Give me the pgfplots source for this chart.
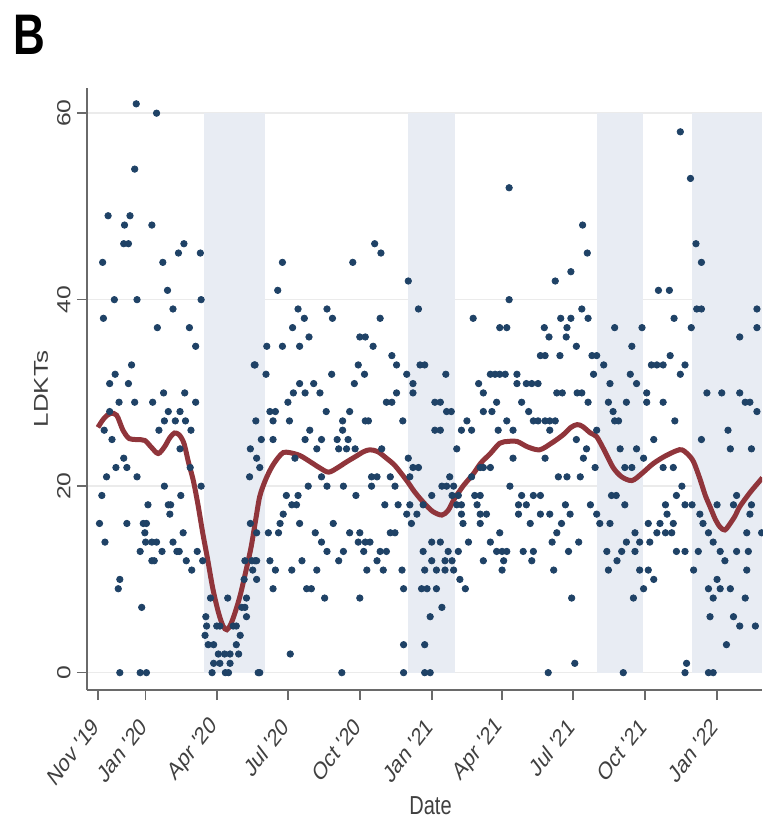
\documentclass[border=0pt]{standalone}
\usepackage{fontspec}
\setmainfont{Liberation Sans}
\usepackage{pgfplots}
\usepackage{pgfplotstable}
\pgfplotsset{compat=1.18}

\definecolor{navy}{HTML}{1F4266}
\definecolor{maroon}{HTML}{90353B}
\definecolor{shade}{HTML}{E8ECF3}
\definecolor{txt}{HTML}{404040}
\definecolor{axl}{HTML}{6A6A6A}

% x = days since 1 Nov 2019, y = daily LDKTs
\pgfplotstableread[row sep=\\]{
day val\\
49 61\\ 75 60\\ 47 54\\ 13 49\\ 41 49\\ 34 48\\ 69 48\\ 33 46\\ 39 46\\ 110 46\\ 103 45\\ 131 45\\ 6 44\\ 83 44\\
21 40\\ 50 40\\ 132 40\\ 89 41\\ 96 39\\ 7 38\\ 76 37\\ 117 37\\ 125 35\\ 43 33\\ 200 33\\ 22 32\\ 15 31\\ 39 31\\ 84 30\\ 111 30\\
27 29\\ 47 29\\ 70 29\\ 125 29\\ 15 28\\ 90 28\\ 105 28\\ 85 27\\ 99 27\\ 112 27\\ 202 27\\ 8 26\\ 78 26\\ 119 26\\ 105 24\\ 18 25\\
195 24\\ 203 23\\ 33 23\\ 23 22\\ 37 22\\ 11 21\\ 50 21\\ 194 21\\ 118 22\\ 85 20\\ 106 19\\ 5 19\\ 132 20\\
2 16\\ 9 14\\ 37 16\\ 64 18\\ 90 18\\ 93 18\\ 92 17\\ 58 16\\ 62 16\\ 60 15\\ 61 14\\ 69 14\\ 75 14\\ 54 13\\ 82 13\\ 69 12\\ 72 12\\
96 14\\ 101 13\\ 104 13\\ 109 15\\ 113 12\\ 120 11\\ 127 13\\ 134 12\\ 28 10\\ 26 9\\ 56 7\\ 28 0\\ 54 0\\ 62 0\\
144 8\\ 166 8\\ 190 8\\ 188 7\\ 138 6\\ 139 5\\ 152 5\\ 156 5\\ 173 5\\ 177 5\\ 190 6\\ 184 7\\ 137 4\\ 182 4\\ 141 3\\ 148 3\\ 177 3\\
154 2\\ 162 2\\ 169 2\\ 180 2\\ 148 1\\ 156 1\\ 169 1\\ 146 0\\ 163 0\\ 167 0\\ 205 0\\
188 12\\ 197 12\\ 201 12\\ 195 16\\ 198 11\\ 203 10\\ 187 10\\
236 44\\ 230 41\\ 256 39\\ 264 38\\ 249 37\\ 270 36\\ 293 39\\ 300 38\\ 326 44\\ 354 46\\ 362 45\\ 361 38\\ 335 36\\ 342 36\\
397 42\\ 410 39\\ 480 38\\ 514 37\\ 523 37\\ 526 52\\ 526 40\\
745 58\\ 758 53\\ 765 46\\ 772 44\\ 620 48\\ 626 45\\ 605 43\\ 585 42\\ 717 41\\ 731 41\\ 619 39\\ 592 38\\ 605 38\\ 627 38\\ 737 38\\
843 39\\ 843 37\\ 766 39\\ 772 39\\ 571 37\\ 577 36\\ 600 37\\ 599 36\\ 661 37\\ 696 37\\ 759 37\\ 821 36\\
216 35\\ 236 35\\ 258 35\\ 352 35\\ 201 33\\ 215 32\\ 299 32\\ 333 33\\ 341 32\\ 376 34\\ 382 33\\ 395 32\\ 403 31\\ 403 30\\ 412 33\\ 418 33\\
445 32\\ 502 32\\ 508 32\\ 514 32\\ 521 32\\ 487 31\\ 493 30\\ 258 31\\ 276 31\\ 250 30\\ 265 30\\ 284 30\\ 328 31\\ 369 29\\ 376 29\\ 382 30\\
243 29\\ 220 28\\ 227 28\\ 224 27\\ 292 28\\ 322 28\\ 431 29\\ 438 29\\ 446 28\\ 452 28\\ 510 29\\ 504 28\\ 493 28\\
245 27\\ 313 27\\ 342 27\\ 346 27\\ 390 27\\ 431 26\\ 438 26\\ 472 27\\ 478 26\\ 465 26\\ 512 26\\ 209 25\\ 224 25\\ 265 25\\ 286 25\\ 306 25\\
320 25\\ 313 26\\ 271 26\\ 280 24\\ 308 24\\ 318 24\\ 329 24\\ 363 24\\ 459 24\\ 207 22\\ 252 23\\ 286 21\\ 293 20\\ 314 20\\ 350 21\\ 357 21\\
350 20\\ 374 21\\ 380 20\\ 397 23\\ 403 22\\ 410 22\\ 399 21\\ 450 21\\ 440 20\\ 446 20\\ 455 20\\ 461 19\\ 465 18\\ 478 21\\ 489 22\\ 493 22\\
502 22\\ 269 20\\ 330 19\\ 241 19\\ 248 18\\ 254 18\\ 256 19\\ 237 17\\ 233 16\\ 231 15\\ 258 16\\ 301 16\\ 367 18\\ 384 18\\ 399 18\\ 408 17\\
416 18\\ 427 19\\ 395 17\\ 401 16\\ 482 19\\ 489 19\\ 485 18\\ 489 17\\ 497 17\\ 489 16\\ 453 19\\ 459 18\\ 465 17\\ 467 16\\
218 15\\ 203 15\\ 278 15\\ 322 15\\ 335 15\\ 374 15\\ 380 15\\ 342 14\\ 286 14\\ 293 13\\ 314 13\\ 308 12\\ 333 14\\ 340 13\\ 348 14\\ 361 13\\
357 12\\ 369 13\\ 220 12\\ 227 11\\ 203 12\\ 261 12\\ 280 11\\ 248 11\\ 344 11\\ 365 11\\ 389 11\\ 418 11\\ 433 11\\ 444 11\\ 453 12\\
416 13\\ 427 14\\ 438 14\\ 448 13\\ 461 13\\ 474 14\\ 427 12\\ 444 12\\ 455 11\\ 463 10\\ 470 9\\ 493 12\\ 502 14\\ 510 13\\ 519 12\\ 523 13\\
267 9\\ 273 9\\ 224 9\\ 391 9\\ 414 9\\ 421 9\\ 433 9\\ 290 8\\ 335 8\\ 440 7\\ 425 6\\ 246 2\\ 391 3\\ 418 3\\ 207 0\\ 312 0\\ 391 0\\ 418 0\\ 425 0\\
612 35\\ 683 35\\ 566 34\\ 572 34\\ 591 34\\ 632 34\\ 638 34\\ 647 33\\ 708 33\\ 715 33\\ 723 33\\ 732 34\\ 751 33\\ 745 32\\ 536 32\\ 536 31\\
548 31\\ 555 31\\ 563 31\\ 634 32\\ 655 31\\ 681 32\\ 689 31\\ 702 30\\ 702 29\\ 587 30\\ 594 30\\ 613 30\\ 619 30\\ 627 29\\ 653 29\\ 676 29\\
723 29\\ 779 30\\ 798 30\\ 821 30\\ 828 29\\ 834 29\\ 843 28\\ 542 29\\ 551 28\\ 557 27\\ 563 27\\ 572 27\\ 578 27\\ 585 27\\ 578 26\\ 523 27\\
531 26\\ 659 28\\ 666 27\\ 661 27\\ 738 27\\ 711 25\\ 772 25\\ 806 26\\ 809 24\\ 836 24\\ 638 26\\ 625 24\\ 612 25\\ 621 23\\ 668 24\\ 689 24\\
674 22\\ 683 22\\ 698 23\\ 723 22\\ 736 22\\ 531 23\\ 572 23\\ 589 21\\ 600 21\\ 617 21\\ 636 22\\ 527 20\\ 542 19\\ 557 19\\ 566 19\\ 538 18\\
548 18\\ 538 17\\ 566 17\\ 578 17\\ 598 18\\ 604 17\\ 593 16\\ 553 16\\ 657 19\\ 663 19\\ 674 18\\ 630 18\\ 638 17\\ 642 16\\ 655 16\\
726 18\\ 740 19\\ 747 20\\ 751 18\\ 760 18\\ 728 17\\ 736 16\\ 719 16\\ 704 16\\ 687 15\\ 693 14\\ 706 14\\ 715 15\\ 726 15\\ 734 15\\
770 17\\ 774 16\\ 781 15\\ 787 14\\ 796 13\\ 802 12\\ 792 18\\ 813 18\\ 817 19\\ 836 18\\ 834 17\\ 830 15\\ 849 15\\
514 15\\ 517 13\\ 517 11\\ 544 13\\ 557 13\\ 555 12\\ 581 14\\ 587 15\\ 602 13\\ 615 14\\ 583 11\\ 606 8\\ 610 1\\ 576 0\\
651 13\\ 664 12\\ 670 13\\ 676 14\\ 687 13\\ 653 11\\ 693 11\\ 704 11\\ 711 10\\ 698 9\\ 685 8\\ 672 0\\
740 13\\ 751 13\\ 768 13\\ 762 11\\ 781 9\\ 792 10\\ 796 9\\ 809 9\\ 787 8\\ 828 8\\ 783 6\\ 813 6\\ 821 5\\ 841 5\\ 804 3\\ 753 1\\
751 0\\ 781 0\\ 787 0\\ 817 13\\ 832 13\\ 830 11\\
}\ldkt

% smoothed trend
\pgfplotstableread[row sep=\\]{
day val\\
0 26.3\\ 8 27.3\\ 16 27.8\\ 24 27.6\\ 32 26.0\\ 40 25.1\\ 50 25.0\\ 60 24.9\\ 68 24.2\\ 77 23.5\\ 85 24.2\\ 92 25.2\\ 98 25.7\\ 104 25.5\\
110 24.6\\ 116 22.5\\ 122 20.6\\ 128 18.0\\ 134 15.0\\ 140 12.3\\ 147 9.0\\ 154 6.5\\ 160 5.0\\ 165 4.6\\ 170 5.2\\ 176 6.6\\ 182 8.3\\
189 10.8\\ 196 13.5\\ 202 16.5\\ 207 18.9\\ 214 20.6\\ 222 22.0\\ 230 23.0\\ 237 23.6\\ 245 23.6\\ 258 23.3\\ 270 22.7\\ 283 22.0\\
295 21.5\\ 307 22.0\\ 318 22.6\\ 330 23.2\\ 340 23.7\\ 348 23.9\\ 358 23.7\\ 369 23.0\\ 380 22.2\\ 395 20.6\\ 405 19.4\\ 416 18.3\\
428 17.3\\ 440 16.9\\ 448 17.4\\ 455 18.5\\ 467 20.0\\ 480 21.3\\ 490 22.5\\ 502 23.5\\ 514 24.6\\ 525 24.8\\ 536 24.8\\ 550 24.2\\
565 23.9\\ 580 24.6\\ 595 25.5\\ 605 26.3\\ 613 26.6\\ 620 26.4\\ 630 25.7\\ 638 25.3\\ 648 23.8\\ 659 22.0\\ 670 21.0\\ 683 20.6\\
695 21.3\\ 710 22.4\\ 725 23.2\\ 740 23.8\\ 747 23.9\\ 755 23.4\\ 762 22.6\\ 770 20.8\\ 777 19.0\\ 783 17.8\\ 790 16.4\\ 796 15.6\\
802 15.3\\ 808 15.9\\ 815 16.8\\ 821 17.8\\ 834 19.3\\ 847 20.6\\ 850 20.9\\
}\trend

\begin{document}
\begin{tikzpicture}
\begin{axis}[
    scale only axis,
    width=337.5pt,
    height=301pt,
    xmin=-14, xmax=849.5,
    ymin=-1.86, ymax=62.7,
    axis x line*=bottom,
    axis y line*=left,
    axis line style={axl, line width=1pt},
    xtick={0,61,152,243,335,427,517,608,700,792},
    xticklabels={Nov \textquotesingle 19, Jan \textquotesingle 20, Apr \textquotesingle 20, Jul \textquotesingle 20, Oct \textquotesingle 20,
                 Jan \textquotesingle 21, Apr \textquotesingle 21, Jul \textquotesingle 21, Oct \textquotesingle 21, Jan \textquotesingle 22},
    ytick={0,20,40,60},
    tick align=outside,
    major tick length=5pt,
    tick style={axl, line width=0.8pt},
    ymajorgrids,
    grid style={black!8, line width=0.7pt},
    /pgf/number format/assume math mode=true,
    xticklabel style={font=\fontsize{9.5}{11}\selectfont, text=txt, anchor=east, inner sep=0pt,
                      xshift=-1pt, yshift=-11pt, yscale=1.3, rotate=45},
    yticklabel style={font=\fontsize{9.5}{11}\selectfont, text=txt, anchor=south, inner sep=0pt,
                      xshift=-3pt, yscale=1.3, rotate=90},
    xlabel={Date},
    ylabel={LDKTs},
    every axis x label/.style={at={(rel axis cs:0.5,0)}, anchor=center, xshift=3pt, yshift=-58pt,
                               font=\fontsize{10}{12}\selectfont, text=txt, yscale=1.3},
    every axis y label/.style={at={(rel axis cs:0,0.5)}, anchor=center, xshift=-23pt,
                               font=\fontsize{10}{12}\selectfont, text=txt, yscale=1.3, rotate=90},
]
% shaded periods
\addplot[fill=shade, draw=none, forget plot] coordinates {(135.6,0) (213.7,0) (213.7,60) (135.6,60)};
\addplot[fill=shade, draw=none, forget plot] coordinates {(396.6,0) (456.8,0) (456.8,60) (396.6,60)};
\addplot[fill=shade, draw=none, forget plot] coordinates {(638.4,0) (697.3,0) (697.3,60) (638.4,60)};
\addplot[fill=shade, draw=none, forget plot] coordinates {(760,0) (849.5,0) (849.5,60) (760,60)};

\addplot[only marks, mark=*, mark size=1.6pt, color=navy] table[x=day, y=val] {\ldkt};
\addplot[maroon, line width=2.5pt, smooth] table[x=day, y=val] {\trend};

\coordinate (SW) at (rel axis cs:0,0);
\end{axis}
\node[anchor=base west, inner sep=0pt, font=\bfseries\fontsize{22}{24}\selectfont, yscale=1.3]
    at ([shift={(-37pt,317.5pt)}]SW) {B};
\pgfresetboundingbox
\path ([shift={(-43.5pt,-66.5pt)}]SW) rectangle ([shift={(337.5pt,345pt)}]SW);
\end{tikzpicture}
\end{document}
